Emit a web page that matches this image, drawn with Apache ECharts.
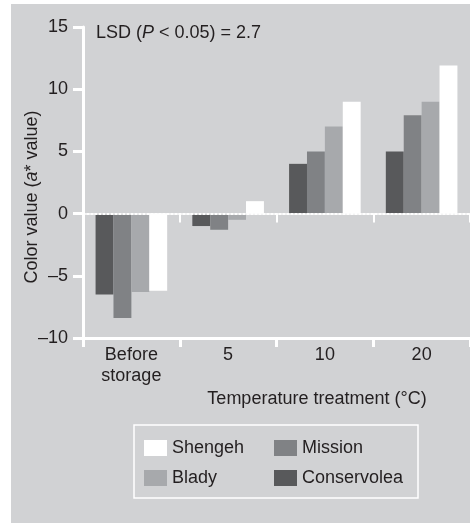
<!DOCTYPE html>
<html>
<head>
<meta charset="utf-8">
<script src="https://cdn.jsdelivr.net/npm/echarts@6/dist/echarts.min.js"></script>
<style>
  html, body { margin: 0; padding: 0; background: #ffffff; }
  #chart { width: 470px; height: 523px; }
</style>
</head>
<body>
<div id="chart"></div>
<script>
// Storage temperature treatments
const categories = ['Before\nstorage', '5', '10', '20'];

// a* colour values per cultivar
const conservolea = [-6.5, -1.0, 4.0, 5.0];
const mission     = [-8.4, -1.3, 5.0, 7.9];
const blady       = [-6.3, -0.5, 7.0, 9.0];
const shengeh     = [-6.2, 1.0, 9.0, 11.9];

const yTicks = { min: -10, max: 15, step: 5 };

const FONT = '"Liberation Sans", Arial, Helvetica, sans-serif';
const INK = '#231f20';
const BG = '#d1d2d4';

const chart = echarts.init(document.getElementById('chart'), null, { renderer: 'canvas' });

function barSeries(name, data, color, withBaseLine) {
  const s = {
    name: name,
    type: 'bar',
    data: data,
    xAxisIndex: 0,
    barGap: '0%',
    barCategoryGap: '26%',
    itemStyle: { color: color },
    emphasis: { disabled: true },
    z: 2
  };
  if (withBaseLine) {
    // solid white baseline along the bottom of the plot
    s.markLine = {
      silent: true,
      symbol: ['none', 'none'],
      label: { show: false },
      lineStyle: { color: '#ffffff', type: 'solid', width: 3 },
      data: [{ yAxis: yTicks.min }]
    };
  }
  return s;
}

const option = {
  animation: false,
  graphic: [
    {
      type: 'rect',
      z: -100,
      silent: true,
      shape: { x: 11, y: 4, width: 470, height: 530 },
      style: { fill: BG }
    },
    {
      type: 'rect',
      z: 5,
      silent: true,
      shape: { x: 134, y: 425, width: 284, height: 73 },
      style: { fill: 'none', stroke: '#ffffff', lineWidth: 1.5 }
    },
    {
      type: 'text',
      z: 5,
      x: 96, y: 33,
      style: {
        text: '{n|LSD (}{i|P}{n| < 0.05) = 2.7}',
        verticalAlign: 'middle',
        rich: {
          n: { fontFamily: FONT, fontSize: 18, fill: INK },
          i: { fontFamily: FONT, fontSize: 18, fontStyle: 'italic', fill: INK }
        }
      }
    },
    {
      type: 'text',
      z: 5,
      x: 32, y: 197,
      rotation: Math.PI / 2,
      style: {
        text: '{n|Color value (}{i|a}{n|* value)}',
        align: 'center',
        verticalAlign: 'middle',
        rich: {
          n: { fontFamily: FONT, fontSize: 18, fill: INK },
          i: { fontFamily: FONT, fontSize: 18, fontStyle: 'italic', fill: INK }
        }
      }
    },
    {
      type: 'text',
      z: 5,
      x: 317, y: 399,
      style: {
        text: 'Temperature treatment (°C)',
        align: 'center',
        verticalAlign: 'middle',
        fontFamily: FONT, fontSize: 18, fill: INK
      }
    }
  ],
  legend: [
    {
      data: ['Shengeh', 'Blady'],
      orient: 'vertical',
      left: 144, top: 439,
      padding: 0,
      itemWidth: 23, itemHeight: 16,
      itemGap: 12,
      selectedMode: false,
      icon: 'rect',
      textStyle: { fontFamily: FONT, fontSize: 18, color: INK }
    },
    {
      data: ['Mission', 'Conservolea'],
      orient: 'vertical',
      left: 274, top: 439,
      padding: 0,
      itemWidth: 23, itemHeight: 16,
      itemGap: 12,
      selectedMode: false,
      icon: 'rect',
      textStyle: { fontFamily: FONT, fontSize: 18, color: INK }
    }
  ],
  grid: { left: 83, right: 0, top: 27, bottom: 185, containLabel: false },
  xAxis: [
    {
      // bottom axis with category labels
      type: 'category',
      data: categories,
      position: 'bottom',
      axisLine: { show: true, onZero: false, lineStyle: { color: '#ffffff', width: 3 } },
      axisTick: { show: true, length: 9, lineStyle: { color: '#ffffff', width: 3 } },
      axisLabel: {
        fontFamily: FONT, fontSize: 18, color: INK,
        lineHeight: 21, margin: 7
      },
      splitLine: { show: false },
      z: 3
    },
    {
      // dotted reference line at zero with group dividers
      type: 'category',
      data: categories,
      position: 'top',
      axisLine: { show: true, onZero: true, lineStyle: { color: '#ffffff', width: 2, type: [2, 2] } },
      axisTick: { show: true, inside: true, length: 9, lineStyle: { color: '#ffffff', width: 2 } },
      axisLabel: { show: false },
      splitLine: { show: false },
      z: 3
    }
  ],
  yAxis: {
    type: 'value',
    min: yTicks.min, max: yTicks.max, interval: yTicks.step,
    axisLine: { show: true, lineStyle: { color: '#ffffff', width: 3 } },
    axisTick: { show: true, length: 10, lineStyle: { color: '#ffffff', width: 3 } },
    axisLabel: {
      fontFamily: FONT, fontSize: 18, color: INK, margin: 15,
      formatter: v => (v < 0 ? '\u2013' + Math.abs(v) : String(v))
    },
    splitLine: { show: false },
    z: 4
  },
  series: [
    barSeries('Conservolea', conservolea, '#58595b', true),
    barSeries('Mission', mission, '#808285', false),
    barSeries('Blady', blady, '#a7a9ac', false),
    barSeries('Shengeh', shengeh, '#ffffff', false)
  ]
};

chart.setOption(option);
</script>
</body>
</html>
